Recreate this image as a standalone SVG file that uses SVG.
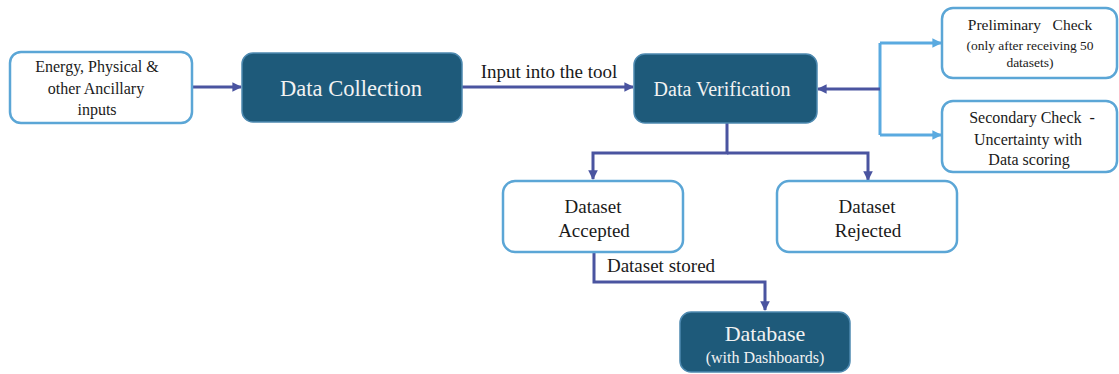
<svg xmlns="http://www.w3.org/2000/svg" width="1119" height="374" viewBox="0 0 1119 374">
<style>
.light{fill:#fff;stroke:#5ba6d6;stroke-width:2.5}
.dark{fill:#1e5a7a;stroke:#4d89b0;stroke-width:1.5}
.lt{fill:#1a1a1a}
.wt{fill:#f2f2f2}
.c1{fill:none;stroke:#4a54a0;stroke-width:3}
.c2{fill:none;stroke:#5aaae0;stroke-width:3}
</style>
<defs>
<marker id="a1" viewBox="0 0 10 10" refX="9" refY="5" markerWidth="3.2" markerHeight="3.2" orient="auto"><path d="M0,0 L10,5 L0,10 z" fill="#4a54a0"/></marker>
<marker id="a2" viewBox="0 0 10 10" refX="9" refY="5" markerWidth="3.2" markerHeight="3.2" orient="auto"><path d="M0,0 L10,5 L0,10 z" fill="#5aaae0"/></marker>
</defs>
<rect width="1119" height="374" fill="#fff"/>
<g font-family="'Liberation Serif', 'Times New Roman', 'DejaVu Serif', serif" text-anchor="middle">
<g id="connectors">
<path class="c1" d="M192,87 H241" marker-end="url(#a1)"/>
<path class="c1" d="M462,87 H633" marker-end="url(#a1)"/>
<text class="lt" x="549" y="78" font-size="19">Input into the tool</text>
<path class="c2" d="M880,43 V135"/>
<path class="c2" d="M880,43 H941" marker-end="url(#a2)"/>
<path class="c2" d="M880,135 H941" marker-end="url(#a2)"/>
<path class="c1" d="M880,89 H818" marker-end="url(#a1)"/>
<path class="c1" d="M727,123 V153 H593 V179" marker-end="url(#a1)"/>
<path class="c1" d="M727,153 H868 V180" marker-end="url(#a1)"/>
<path class="c1" d="M594,252 V282 H765 V310" marker-end="url(#a1)"/>
<text class="lt" x="661" y="272" font-size="19">Dataset stored</text>
</g>
<g id="inputs">
<rect class="light" x="10" y="52" width="182" height="71" rx="11"/>
<text class="lt" font-size="16"><tspan x="97" y="72">Energy, Physical &amp;</tspan><tspan x="96" y="94">other Ancillary</tspan><tspan x="97" y="115">inputs</tspan></text>
</g>
<g id="data-collection">
<rect class="dark" x="242" y="53" width="220" height="69" rx="11"/>
<text class="wt" x="351" y="96" font-size="22.5">Data Collection</text>
</g>
<g id="data-verification">
<rect class="dark" x="634" y="54" width="183" height="69" rx="11"/>
<text class="wt" x="722" y="96" font-size="20">Data Verification</text>
</g>
<g id="preliminary">
<rect class="light" x="942" y="8" width="175" height="70" rx="11"/>
<text class="lt" x="1030" y="30" font-size="15.5" xml:space="preserve">Preliminary   Check</text>
<text class="lt" font-size="13.5"><tspan x="1030" y="50">(only after receiving 50</tspan><tspan x="1030" y="67">datasets)</tspan></text>
</g>
<g id="secondary">
<rect class="light" x="942" y="101" width="175" height="71" rx="11"/>
<text class="lt" font-size="16" xml:space="preserve"><tspan x="1032" y="123">Secondary Check  -</tspan><tspan x="1028" y="145">Uncertainty with</tspan><tspan x="1029" y="165">Data scoring</tspan></text>
</g>
<g id="accepted">
<rect class="light" x="503" y="181" width="180" height="71" rx="12"/>
<text class="lt" font-size="19"><tspan x="593" y="213">Dataset</tspan><tspan x="594" y="237">Accepted</tspan></text>
</g>
<g id="rejected">
<rect class="light" x="777" y="181" width="180" height="71" rx="12"/>
<text class="lt" font-size="19"><tspan x="867" y="213">Dataset</tspan><tspan x="868" y="237">Rejected</tspan></text>
</g>
<g id="database">
<rect class="dark" x="680" y="312" width="170" height="60" rx="11"/>
<text class="wt" x="765" y="341" font-size="22">Database</text>
<text class="wt" x="765" y="363" font-size="16">(with Dashboards)</text>
</g>
</g>
</svg>
